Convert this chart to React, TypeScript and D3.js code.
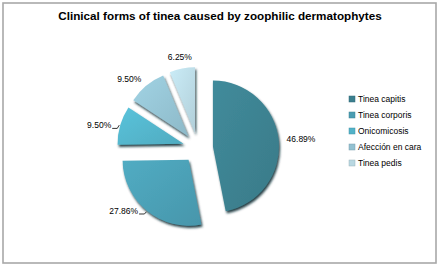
import React from "react";
import * as d3 from "d3";

const title = "Clinical forms of tinea caused by zoophilic dermatophytes";
const categories = ["Tinea capitis", "Tinea corporis", "Onicomicosis", "Afección en cara", "Tinea pedis"];
const values = [46.89, 27.86, 9.5, 9.5, 6.25];
const labels = ["46.89%", "27.86%", "9.50%", "9.50%", "6.25%"];
const colors = ["#3b7f8e", "#4a9db2", "#52b2c8", "#93c1d1", "#b9d8e2"];

const W = 440;
const H = 267;

export default function App() {
  const cx = 198;
  const cy = 148;
  const r = 66;
  const explode = 15;

  const pie = d3
    .pie<number>()
    .sort(null)
    .value((d) => d)
    .startAngle(0)
    .endAngle(2 * Math.PI);
  const arcs = pie(values);
  const arc = d3.arc<d3.PieArcDatum<number>>().innerRadius(0).outerRadius(r);

  const font = "'Liberation Sans', Arial, sans-serif";

  return (
    <svg
      width={W}
      height={H}
      style={{ position: "absolute", left: 0, top: 0, background: "#fff" }}
    >
      <defs>
        <filter id="shadow" x="-20%" y="-20%" width="140%" height="140%">
          <feDropShadow dx="1.2" dy="2.2" stdDeviation="0.9" floodColor="#0e2e36" floodOpacity="0.9" />
        </filter>
        {colors.map((c, i) => (
          <linearGradient key={i} id={`g${i}`} x1="0" y1="0" x2="1" y2="1">
            <stop offset="0%" stopColor={d3.color(c)!.brighter(0.25).formatHex()} />
            <stop offset="100%" stopColor={d3.color(c)!.darker(0.12).formatHex()} />
          </linearGradient>
        ))}
      </defs>
      <rect x={3} y={3} width={433} height={260} fill="#fff" stroke="#a8a8a8" strokeWidth={1.6} />
      <text
        x={220}
        y={20}
        textAnchor="middle"
        fontFamily={font}
        fontWeight="bold"
        fontSize={11.7}
        fill="#000"
      >
        {title}
      </text>
      {arcs.map((a, i) => {
        const mid = (a.startAngle + a.endAngle) / 2;
        const dx = Math.sin(mid) * explode;
        const dy = -Math.cos(mid) * explode;
        const vx = cx + dx;
        const vy = cy + dy;
        const s = Math.sin(mid);
        const c = Math.cos(mid);
        let anchor: "start" | "end" | "middle" = s > 0.3 ? "start" : s < -0.3 ? "end" : "middle";
        const leader = s < -0.3 && c < 0.5;
        const lr = anchor === "middle" ? r + 12 : leader ? r : r + 8;
        let lx = vx + s * lr;
        let ly = vy - c * lr;
        if (leader) lx -= 9;
        const ex = vx + s * (r + 1);
        const ey = vy - c * (r + 1);
        return (
          <g key={i}>
            <g transform={`translate(${vx},${vy})`}>
              <path d={arc(a) || ""} fill={`url(#g${i})`} filter="url(#shadow)" />
            </g>
            {leader && (
              <path
                d={`M${lx + 1},${ly + 3} L${ex - 2},${ly + 3} L${ex},${ey}`}
                fill="none"
                stroke="#000"
                strokeWidth={0.8}
              />
            )}
            <text
              x={lx}
              y={ly + 3}
              textAnchor={anchor}
              fontFamily={font}
              fontSize={8.5}
              fill="#000"
            >
              {labels[i]}
            </text>
          </g>
        );
      })}
      {categories.map((cat, i) => {
        const ly = 99 + i * 16;
        return (
          <g key={cat}>
            <rect x={349} y={ly - 3} width={6} height={6} fill={colors[i]} stroke={d3.color(colors[i])!.darker(0.5).formatHex()} strokeWidth={0.5} />
            <text x={358} y={ly + 3} fontFamily={font} fontSize={8.5} fill="#000">
              {cat}
            </text>
          </g>
        );
      })}
    </svg>
  );
}
